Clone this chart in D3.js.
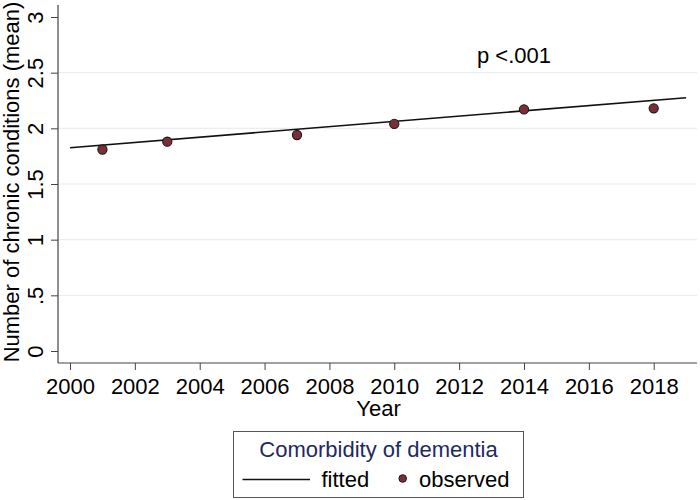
<!DOCTYPE html>
<html><head><meta charset="utf-8">
<script src="https://cdn.jsdelivr.net/npm/d3@7"></script>
<style>body{margin:0;background:#fff}svg{display:block}text{font-family:"Liberation Sans",Arial,sans-serif}</style>
</head><body>
<svg id="c" width="700" height="500"></svg>
<script>
const years = [2001, 2003, 2007, 2010, 2014, 2018];
const observed = [1.81, 1.88, 1.94, 2.04, 2.17, 2.18];
const fittedYears = [2000, 2019];
const fittedValues = [1.826, 2.275];
const xTicks = [2000, 2002, 2004, 2006, 2008, 2010, 2012, 2014, 2016, 2018];
const yTicks = [0, 0.5, 1, 1.5, 2, 2.5, 3];
const yTickLabels = ["0", ".5", "1", "1.5", "2", "2.5", "3"];
const gridVals = [0.5, 1, 1.5, 2, 2.5];

(function () {
const svg = d3.select("#c");
const x = d3.scaleLinear().domain([2000, 2018]).range([70, 653.7]);
const y = d3.scaleLinear().domain([0, 3]).range([351, 17]);
const pL = 58, pR = 697, pB = 363, pT = 5;
const fs = "22px";

// grid
svg.append("g").selectAll("line").data(gridVals).join("line")
  .attr("x1", pL).attr("x2", pR)
  .attr("y1", d => y(d)).attr("y2", d => y(d))
  .attr("stroke", "#e6eff1").attr("stroke-width", 1.2);

// y axis
const yAxis = d3.axisLeft(y).tickValues(yTicks)
  .tickFormat((d, i) => yTickLabels[i]).tickSize(7).tickPadding(0);
const gy = svg.append("g").attr("transform", `translate(${pL},0)`).call(yAxis);
gy.select(".domain").remove();
gy.selectAll(".tick line").attr("stroke", "#444");
gy.selectAll(".tick text")
  .attr("transform", "translate(-15,0) rotate(-90)")
  .attr("x", 0).attr("y", 0).attr("dy", 0)
  .attr("text-anchor", "middle")
  .style("font-size", fs).attr("fill", "#000");
svg.append("line").attr("x1", pL).attr("x2", pL).attr("y1", pT).attr("y2", pB)
  .attr("stroke", "#444").attr("stroke-width", 1.2);

// x axis
const xAxis = d3.axisBottom(x).tickValues(xTicks).tickFormat(d3.format("d")).tickSize(7).tickPadding(0);
const gx = svg.append("g").attr("transform", `translate(0,${pB})`).call(xAxis);
gx.select(".domain").remove();
gx.selectAll(".tick line").attr("stroke", "#444");
gx.selectAll(".tick text").attr("y", 31).attr("dy", 0)
  .style("font-size", fs).attr("fill", "#000");
svg.append("line").attr("x1", pL).attr("x2", pR).attr("y1", pB).attr("y2", pB)
  .attr("stroke", "#444").attr("stroke-width", 1.2);

// axis titles
svg.append("text").attr("transform", `translate(18.5,182) rotate(-90)`)
  .attr("text-anchor", "middle").style("font-size", fs).text("Number of chronic conditions (mean)");
svg.append("text").attr("x", (pL + pR) / 2 + 1).attr("y", 416)
  .attr("text-anchor", "middle").style("font-size", fs).text("Year");

// fitted line
const fitted = fittedYears.map((d, i) => [d, fittedValues[i]]);
svg.append("path").datum(fitted)
  .attr("d", d3.line().x(d => x(d[0])).y(d => y(d[1])))
  .attr("fill", "none").attr("stroke", "#111").attr("stroke-width", 1.6);

// observed points
svg.append("g").selectAll("circle").data(years).join("circle")
  .attr("cx", d => x(d)).attr("cy", (d, i) => y(observed[i])).attr("r", 4.6)
  .attr("fill", "#7b2d38").attr("stroke", "#1a1a1a").attr("stroke-width", 1.1);

// p annotation
svg.append("text").attr("x", x(2012.55)).attr("y", y(2.585))
  .style("font-size", fs).text("p <.001");

// legend
const lg = svg.append("g");
lg.append("rect").attr("x", 233.5).attr("y", 431.5).attr("width", 290).attr("height", 66)
  .attr("fill", "#fff").attr("stroke", "#555").attr("stroke-width", 1);
lg.append("text").attr("x", 378.5).attr("y", 456.5).attr("text-anchor", "middle")
  .style("font-size", fs).attr("fill", "#1e2b5c").text("Comorbidity of dementia");
lg.append("line").attr("x1", 242.5).attr("x2", 310).attr("y1", 479.5).attr("y2", 479.5)
  .attr("stroke", "#111").attr("stroke-width", 1.6);
lg.append("text").attr("x", 321.5).attr("y", 486.5).style("font-size", fs).text("fitted");
lg.append("circle").attr("cx", 402.7).attr("cy", 478.5).attr("r", 3.8)
  .attr("fill", "#7b2d38").attr("stroke", "#1a1a1a").attr("stroke-width", 1);
lg.append("text").attr("x", 419).attr("y", 486.5).style("font-size", fs).text("observed");
})();
</script>
</body></html>
